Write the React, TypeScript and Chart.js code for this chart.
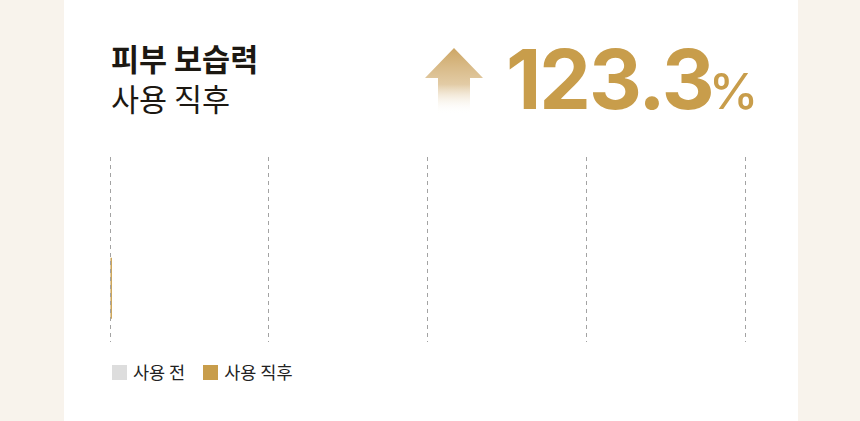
import { useEffect, useRef } from "react";
import { Chart, registerables } from "chart.js";

Chart.register(...registerables);

const categories = ["피부 보습력"];
const seriesLabels = ["사용 전", "사용 직후"];
const beforeValues = [0];
const afterValues = [0.3];
const seriesColors = ["#dddddd", "#c89d4b"];
const axisTicks = [0, 25, 50, 75, 100];
const titleLines = ["피부 보습력", "사용 직후"];
const increaseValue = "123.3";
const increaseUnit = "%";

const KR = '"Noto Sans CJK KR", "Noto Sans", sans-serif';
const LATIN = 'Inter, "Noto Sans CJK KR", sans-serif';

export default function App() {
  const canvasRef = useRef<HTMLCanvasElement | null>(null);

  useEffect(() => {
    document.body.style.margin = "0";
    const canvas = canvasRef.current;
    if (!canvas) return;
    const chart = new Chart(canvas, {
      type: "bar",
      data: {
        labels: categories,
        datasets: [
          {
            label: seriesLabels[0],
            data: beforeValues,
            backgroundColor: seriesColors[0],
            borderWidth: 0,
          },
          {
            label: seriesLabels[1],
            data: afterValues,
            backgroundColor: seriesColors[1],
            borderWidth: 0,
          },
        ],
      },
      options: {
        indexAxis: "y",
        animation: false,
        responsive: false,
        devicePixelRatio: 1,
        layout: { padding: { left: 10, right: 10, top: 7, bottom: 8 } },
        datasets: {
          bar: { categoryPercentage: 0.838, barPercentage: 0.787 },
        },
        plugins: {
          legend: { display: false },
          tooltip: { enabled: false },
        },
        scales: {
          x: {
            min: axisTicks[0],
            max: axisTicks[axisTicks.length - 1],
            afterBuildTicks: (axis: any) => {
              axis.ticks = axisTicks.map((v) => ({ value: v }));
            },
            ticks: { display: false },
            border: { display: false, dash: [4, 4] },
            grid: {
              color: "#a3a3a3",
              lineWidth: 1,
              drawTicks: false,
              z: 1,
            },
          },
          y: {
            display: false,
            grid: { display: false },
          },
        },
      } as any,
    });
    return () => chart.destroy();
  }, []);

  return (
    <div
      style={{
        position: "absolute",
        left: 0,
        top: 0,
        width: 860,
        height: 421,
        background: "#f8f3ec",
        overflow: "hidden",
      }}
    >
      <div
        style={{
          position: "absolute",
          left: 64,
          top: 0,
          width: 734,
          height: 421,
          background: "#ffffff",
        }}
      />
      <div
        style={{
          position: "absolute",
          left: 111,
          top: 38,
          fontFamily: KR,
          fontSize: 30.5,
          lineHeight: "40px",
          color: "#1c1812",
        }}
      >
        <div style={{ fontWeight: 700 }}>{titleLines[0]}</div>
        <div style={{ fontWeight: 400 }}>{titleLines[1]}</div>
      </div>
      <svg
        style={{ position: "absolute", left: 425, top: 48 }}
        width={58}
        height={66}
        viewBox="0 0 58 66"
      >
        <defs>
          <linearGradient id="arrowGrad" x1="0" y1="0" x2="0" y2="1">
            <stop offset="0" stopColor="#cda664" stopOpacity="1" />
            <stop offset="0.55" stopColor="#ddc295" stopOpacity="0.85" />
            <stop offset="1" stopColor="#ffffff" stopOpacity="0" />
          </linearGradient>
        </defs>
        <polygon
          points="29,0 58,30 45,30 45,66 13,66 13,30 0,30"
          fill="url(#arrowGrad)"
        />
      </svg>
      <div
        style={{
          position: "absolute",
          left: 506,
          top: 39,
          display: "flex",
          alignItems: "baseline",
          color: "#c89d4b",
          fontFamily: LATIN,
          lineHeight: 1,
        }}
      >
        <span style={{ fontSize: 82, fontWeight: 700, letterSpacing: -2 }}>
          {increaseValue}
        </span>
        <span style={{ fontSize: 50, fontWeight: 500, marginLeft: -4 }}>
          {increaseUnit}
        </span>
      </div>
      <canvas
        ref={canvasRef}
        width={655}
        height={200}
        style={{ position: "absolute", left: 100, top: 150, width: 655, height: 200 }}
      />
      <div
        style={{
          position: "absolute",
          left: 112,
          top: 362,
          display: "flex",
          alignItems: "center",
          fontFamily: KR,
          fontSize: 17.5,
          color: "#222222",
          lineHeight: "20px",
        }}
      >
        {seriesLabels.map((label, i) => (
          <div
            key={label}
            style={{ display: "flex", alignItems: "center", marginRight: 18 }}
          >
            <span
              style={{
                display: "inline-block",
                width: 15,
                height: 15,
                background: seriesColors[i],
                marginRight: 6,
              }}
            />
            <span>{label}</span>
          </div>
        ))}
      </div>
    </div>
  );
}
